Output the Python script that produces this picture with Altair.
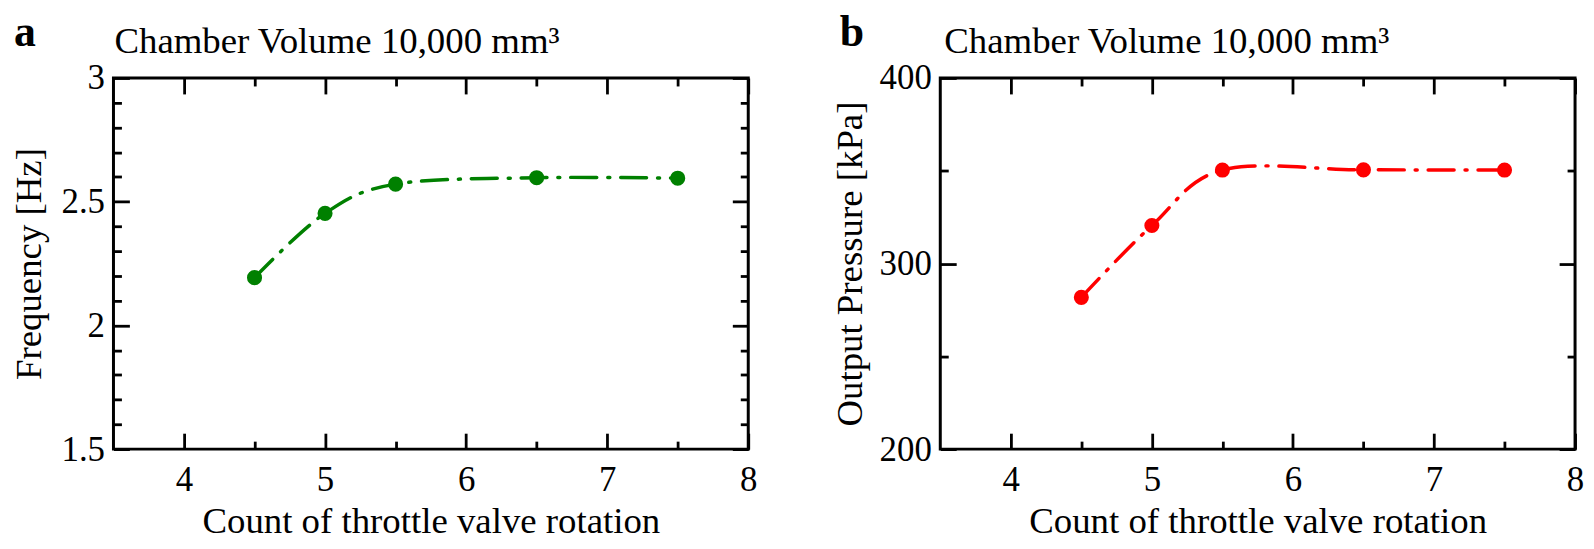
import altair as alt
import pandas as pd

# ---- data ----
rotations = [4.5, 5.0, 5.5, 6.5, 7.5]
frequency = [2.193, 2.453, 2.571, 2.597, 2.595]
pressure = [281.8, 320.5, 350.4, 350.5, 350.4]

x_major = [4, 5, 6, 7, 8]
x_minor = [4.5, 5.5, 6.5, 7.5]
freq_major = [1.5, 2, 2.5, 3]
freq_minor = [1.6, 1.7, 1.8, 1.9, 2.1, 2.2, 2.3, 2.4, 2.6, 2.7, 2.8, 2.9]
pres_major = [200, 300, 400]
pres_minor = [250, 350]

panel_letters = ["a", "b"]
panel_title = "Chamber Volume 10,000 mm³"
x_title = "Count of throttle valve rotation"
y_titles = ["Frequency [Hz]", "Output Pressure [kPa]"]
colors = ["#008000", "#ff0000"]

FONT = "Liberation Serif"
W, H = 638, 373
MAJ, MIN = 16, 8


def axis(orient, values, size, labels=False, title=None, fmt=None, lpad=0, tpad=0):
    kw = dict(orient=orient, values=values, tickSize=size, offset=-size,
              labels=labels, domain=False, grid=False, tickColor="black",
              tickWidth=2.8, labelFont=FONT, labelFontSize=35, labelColor="black",
              titleFont=FONT, titleFontSize=37, titleFontWeight="normal",
              titleColor="black", labelPadding=lpad, titlePadding=tpad,
              title=title, labelFlush=False, labelOverlap=False)
    if fmt:
        kw["format"] = fmt
    return alt.Axis(**kw)


def panel(values, ydom, ymaj, ymin, ytitle, color, letter, yfmt, ytpad, letter_x, title_x):
    df = pd.DataFrame({"rot": rotations, "val": values})
    xs = alt.Scale(domain=[3.5, 8], nice=False, zero=False)
    ys = alt.Scale(domain=ydom, nice=False, zero=False)
    base = alt.Chart(df)

    line = base.mark_line(interpolate="cardinal", color=color, strokeWidth=3.5,
                          strokeDash=[26, 11, 2, 11], strokeCap="round").encode(
        x=alt.X("rot:Q", scale=xs,
                axis=axis("bottom", x_major, MAJ, labels=True, title=x_title, lpad=14, tpad=6)),
        y=alt.Y("val:Q", scale=ys,
                axis=axis("left", ymaj, MAJ, labels=True, title=ytitle, fmt=yfmt, lpad=9, tpad=ytpad)),
    )
    pts = base.mark_circle(color=color, size=230, opacity=1).encode(
        x=alt.X("rot:Q", scale=xs, axis=axis("bottom", x_minor, MIN)),
        y=alt.Y("val:Q", scale=ys, axis=axis("left", ymin, MIN)),
    )
    ghost1 = base.mark_point(opacity=0).encode(
        x=alt.X("rot:Q", scale=xs, axis=axis("top", x_major, MAJ)),
        y=alt.Y("val:Q", scale=ys, axis=axis("right", ymaj, MAJ)),
    )
    ghost2 = base.mark_point(opacity=0).encode(
        x=alt.X("rot:Q", scale=xs, axis=axis("top", x_minor, MIN)),
        y=alt.Y("val:Q", scale=ys, axis=axis("right", ymin, MIN)),
    )
    letter_txt = alt.Chart(pd.DataFrame({"t": [letter]})).mark_text(
        font=FONT, fontSize=44, fontWeight="bold", align="left",
        baseline="alphabetic", color="black").encode(
        x=alt.value(letter_x), y=alt.value(-32), text="t:N")
    title_txt = alt.Chart(pd.DataFrame({"t": [panel_title]})).mark_text(
        font=FONT, fontSize=37, align="left", baseline="alphabetic",
        color="black").encode(x=alt.value(title_x), y=alt.value(-25), text="t:N")

    return alt.layer(line, pts, ghost1, ghost2, letter_txt, title_txt).resolve_axis(
        x="independent", y="independent").properties(width=W, height=H)


left = panel(frequency, [1.5, 3], freq_major, freq_minor, y_titles[0], colors[0],
             panel_letters[0], "~g", 13, -100, 1)
right = panel(pressure, [200, 400], pres_major, pres_minor, y_titles[1], colors[1],
              panel_letters[1], "d", 10, -101, 4)

chart = alt.hconcat(left, right, spacing=71).properties(
    padding={"left": 0, "top": 0, "right": 0, "bottom": 0}
).configure(font=FONT).configure_view(stroke="black", strokeWidth=3)

chart.save("out.html", embed_options={"renderer": "svg", "actions": False})
